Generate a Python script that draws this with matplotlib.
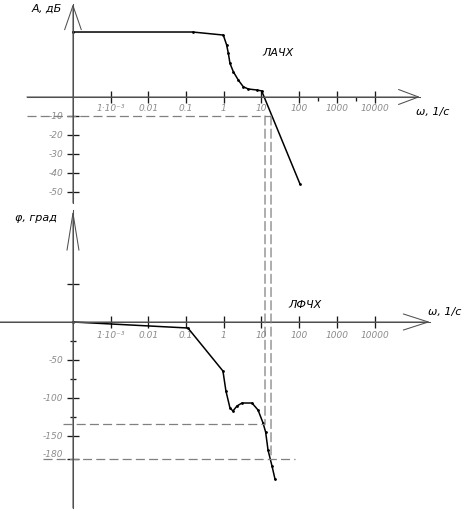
import matplotlib
matplotlib.use("Agg")
import matplotlib.pyplot as plt
from matplotlib.patches import ConnectionPatch
from matplotlib.ticker import FixedLocator, NullFormatter, NullLocator

plt.rcParams["font.family"] = ["Liberation Sans Narrow", "DejaVu Sans"]
plt.rcParams["font.style"] = "italic"
plt.rcParams["lines.scale_dashes"] = False

# ЛАЧХ (амплитуда, дБ)
amp_omega = [1e-4, 0.15, 0.97, 1.19, 1.32, 1.46, 1.79, 2.43, 3.29, 4.47, 7.46, 10.1, 105]
amp_db = [34.2, 34.2, 32.6, 27.4, 23.0, 17.7, 13.3, 8.9, 5.4, 4.2, 3.7, 3.2, -45.8]

# ЛФЧХ (фаза, град)
phase_omega = [1e-4, 0.112, 0.95, 1.14, 1.46, 1.75, 2.24, 3.04, 5.6, 8.1, 11.0, 12.9, 14.9, 19.0, 22.8]
phase_deg = [0, -7.9, -64.5, -90.8, -113.2, -117.1, -110.5, -106.6, -106.6, -115.8, -132.9, -145, -168.4, -189.5, -206.6]

# запасы устойчивости
w_cut = 12.4
w_pi = 17.9
gm_level = -10
pm_phase = -134

x_ticks = [1e-3, 1e-2, 0.1, 1, 10, 100, 1000, 10000]
x_labels = ["1·10⁻³", "0.01", "0.1", "1", "10", "100", "1000", "10000"]
amp_ticks = [-10, -20, -30, -40, -50]
amp_labels = ["-10", "-20", "-30", "-40", "-50"]
phase_ticks = [50, -50, -100, -150, -180]
phase_labels = ["", "-50", "-100", "-150", "-180"]
phase_minor = [-25, -75, -125]

axis_color = "#505050"
tick_color = "#1a1a1a"
label_color = "#8c8c8c"
guide_color = "#808080"
dash = (0, (6.5, 3))

fig = plt.figure(figsize=(4.65, 5.11), dpi=100)
ax_a = fig.add_axes([0, 0, 1, 1])
ax_p = fig.add_axes([0, 0, 1, 1])

xlim = (1.16e-6, 2.5e6)
setup = [
    (ax_a, (-217.9, 51.05), (6.0e-6, 1.6e5), (-55.8, 48.9)),
    (ax_p, (-248.7, 423.7), (1.16e-6, 2.95e5), (-244.7, 147.4)),
]
for ax, ylim, xspan, yspan in setup:
    ax.set_xscale("log")
    ax.set_xlim(*xlim)
    ax.set_ylim(*ylim)
    ax.patch.set_visible(False)
    ax.spines[["top", "right"]].set_visible(False)
    ax.spines["left"].set_position(("data", 1e-4))
    ax.spines["bottom"].set_position(("data", 0))
    ax.spines["bottom"].set_bounds(*xspan)
    ax.spines["left"].set_bounds(*yspan)
    for s in ("left", "bottom"):
        ax.spines[s].set_color(axis_color)
        ax.spines[s].set_linewidth(0.75)
    ax.xaxis.set_ticks_position("bottom")
    ax.yaxis.set_ticks_position("left")
    ax.set_xticks(x_ticks, x_labels)
    ax.xaxis.set_minor_formatter(NullFormatter())
    ax.tick_params(which="major", direction="inout", length=8, width=0.95,
                   color=tick_color, labelcolor=label_color, labelsize=6.5)

ax_a.set_yticks(amp_ticks, amp_labels)
ax_a.xaxis.set_minor_locator(FixedLocator([316, 3162]))
ax_a.tick_params(axis="x", which="minor", direction="out", length=3, width=0.95, color=tick_color)
ax_a.tick_params(axis="x", which="major", pad=1)
ax_a.tick_params(axis="y", which="major", pad=3)

ax_p.set_yticks(phase_ticks, phase_labels)
ax_p.yaxis.set_minor_locator(FixedLocator(phase_minor))
ax_p.xaxis.set_minor_locator(NullLocator())
ax_p.tick_params(axis="y", which="minor", direction="inout", length=4, width=0.95, color=tick_color)
ax_p.tick_params(axis="x", which="major", pad=2.5)
ax_p.tick_params(axis="y", which="major", pad=3)
ax_p.get_yticklabels()[-1].set_verticalalignment("bottom")


def arrow_head(ax, start, tip, hl, hw):
    ax.annotate("", xy=tip, xytext=start, annotation_clip=False,
                arrowprops=dict(arrowstyle=f"->,head_length={hl},head_width={hw}",
                                lw=0.75, color=axis_color, shrinkA=0, shrinkB=0,
                                mutation_scale=1))


arrow_head(ax_a, (6.0e-6, 0), (1.6e5, 0), 14.4, 5.4)
arrow_head(ax_a, (1e-4, -55.8), (1e-4, 48.9), 17.3, 6.0)
arrow_head(ax_p, (1.16e-6, 0), (2.95e5, 0), 18.0, 5.8)
arrow_head(ax_p, (1e-4, -244.7), (1e-4, 147.4), 26.6, 4.3)

# кривые
ax_a.plot(amp_omega, amp_db, color="black", lw=1.1, marker="o", ms=1.0, clip_on=False)
ax_p.plot(phase_omega, phase_deg, color="black", lw=1.1, marker="o", ms=1.0, clip_on=False)

# вспомогательные линии
ax_a.plot([6.0e-6, w_pi], [gm_level, gm_level], color=guide_color, lw=0.9, ls=dash)
ax_p.plot([5.4e-5, w_cut], [pm_phase, pm_phase], color=guide_color, lw=0.9, ls=dash)
ax_p.plot([1.6e-5, 78], [-180, -180], color=guide_color, lw=0.9, ls=dash)
for w, ph in [(w_cut, pm_phase), (w_pi, -180)]:
    con = ConnectionPatch(xyA=(w, gm_level), coordsA=ax_a.transData,
                          xyB=(w, ph), coordsB=ax_p.transData,
                          color=guide_color, lw=0.9, linestyle=dash)
    fig.add_artist(con)

W, H = 465, 511
txt = dict(family=["DejaVu Sans"], style="italic", fontsize=8, color="black",
           ha="center", va="center")
fig.text(47 / W, 1 - 9 / H, "A, дБ", **txt)
fig.text(278 / W, 1 - 53 / H, "ЛАЧХ", **txt)
fig.text(433 / W, 1 - 112 / H, "ω, 1/с", **txt)
fig.text(36 / W, 1 - 218 / H, "φ, град", **txt)
fig.text(305 / W, 1 - 305 / H, "ЛФЧХ", **txt)
fig.text(445 / W, 1 - 312 / H, "ω, 1/с", **txt)

fig.savefig("out.png", dpi=100)
